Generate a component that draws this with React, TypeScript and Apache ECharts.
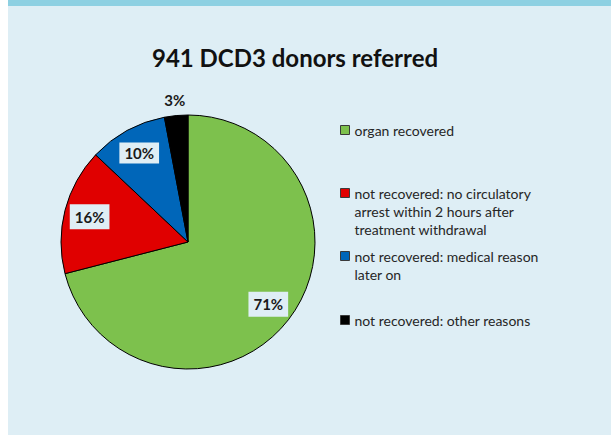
import React, { useEffect, useRef } from 'react';
import * as echarts from 'echarts';

const categories = [
  'organ recovered',
  'not recovered: no circulatory arrest within 2 hours after treatment withdrawal',
  'not recovered: medical reason later on',
  'not recovered: other reasons',
];
const legendLabels = [
  'organ recovered',
  'not recovered: no circulatory\narrest within 2 hours after\ntreatment withdrawal',
  'not recovered: medical reason\nlater on',
  'not recovered: other reasons',
];
const values = [668, 151, 94, 28];
const colors = ['#7DC14D', '#E00000', '#0066B9', '#000000'];

const FONT = 'Lato, "Open Sans", sans-serif';

export default function App() {
  const ref = useRef<HTMLDivElement>(null);
  useEffect(() => {
    const chart = echarts.init(ref.current!, null, { renderer: 'svg' });
    const cx = 180;
    const cy = 242;
    const r = 127;
    const total = values.reduce((a, b) => a + b, 0);
    const labelDist = [0.8, 0.8, 0.8, 1.12];
    const legendCenters = [130, 193, 256, 320];
    const lh = 18;
    const legends = categories.map((name, i) => {
      const L = legendLabels[i].split('\n').length;
      const shown = '\n'.repeat(L - 1) + legendLabels[i];
      return {
        data: [name],
        orient: 'vertical',
        left: 332,
        top: legendCenters[i] - (2 * L - 1) * (lh / 2),
        padding: 0,
        itemWidth: 9,
        itemHeight: 9,
        icon: 'rect',
        selectedMode: false,
        itemStyle: { borderColor: '#3a3a3a', borderWidth: 1 },
        formatter: () => shown,
        textStyle: {
          fontFamily: FONT,
          fontSize: 14,
          color: '#262626',
          lineHeight: lh,
        },
      };
    });
    chart.setOption({
      animation: false,
      backgroundColor: '#DEEEF5',
      color: colors,
      graphic: [
        {
          type: 'rect',
          left: 0,
          top: 0,
          shape: { width: 603, height: 6 },
          style: { fill: '#8DD0E2' },
          silent: true,
        },
      ],
      title: {
        text: '941 DCD3 donors referred',
        left: 144,
        top: 45,
        padding: 0,
        textStyle: { fontFamily: FONT, fontWeight: 'bold', fontSize: 24, color: '#111111' },
      },
      legend: legends,
      series: [
        {
          type: 'pie',
          center: [cx, cy],
          radius: r,
          startAngle: 90,
          clockwise: true,
          silent: true,
          itemStyle: { borderColor: '#000000', borderWidth: 1 },
          emphasis: { disabled: true },
          labelLine: { show: false },
          label: {
            show: true,
            position: 'inside',
            fontFamily: FONT,
            fontWeight: 'bold',
            fontSize: 15,
            color: '#1a1a1a',
            backgroundColor: '#DFEEF5',
            padding: [5, 5],
            formatter: (p: any) => Math.round(p.percent) + '%',
          },
          labelLayout: (p: any) => {
            const i = p.dataIndex;
            let cum = 0;
            for (let k = 0; k < i; k++) cum += values[k];
            const mid = ((cum + values[i] / 2) / total) * 2 * Math.PI;
            const d = r * labelDist[i];
            return {
              x: cx + d * Math.sin(mid),
              y: cy - d * Math.cos(mid),
              align: 'center',
              verticalAlign: 'middle',
            };
          },
          data: categories.map((name, i) => ({
            name,
            value: values[i],
            label:
              i === 3
                ? { backgroundColor: 'transparent', padding: 0 }
                : i === 2
                ? { padding: [3, 5] }
                : {},
          })),
        },
      ],
    });
    return () => chart.dispose();
  }, []);
  return (
    <div style={{ position: 'fixed', left: 0, top: 0, width: 611, height: 435, background: '#ffffff' }}>
      <div ref={ref} style={{ position: 'absolute', left: 8, top: 0, width: 603, height: 435 }} />
    </div>
  );
}
